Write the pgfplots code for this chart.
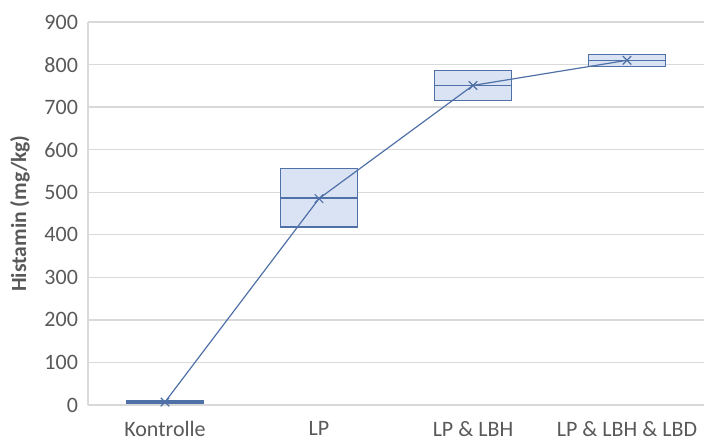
\documentclass[border=0pt]{standalone}
\usepackage{fontspec}
\setmainfont{Carlito}
\usepackage{pgfplots}
\pgfplotsset{compat=1.18}
\definecolor{boxedge}{HTML}{4F71A8}
\definecolor{boxfill}{HTML}{DAE3F3}
\definecolor{gridc}{HTML}{D9D9D9}
\definecolor{txt}{HTML}{595959}
\begin{document}
\begin{tikzpicture}
\begin{axis}[
  scale only axis,
  width=308pt, height=191.5pt,
  xmin=-0.5, xmax=3.5,
  ymin=0, ymax=900,
  ytick={0,100,...,900},
  xtick={0,1,2,3},
  xticklabels={Kontrolle, LP, LP \& LBH, LP \& LBH \& LBD},
  tick style={draw=none},
  ymajorgrids,
  grid style={gridc, line width=0.7pt},
  axis x line*=bottom,
  axis y line*=left,
  axis line style={gridc, line width=0.7pt, -},
  /pgf/number format/assume math mode=true,
  tick label style={font=\fontsize{11}{13}\selectfont, text=txt},
  yticklabel style={xshift=-1.5pt},
  xticklabel style={yshift=-4.5pt},
  ylabel={Histamin (mg/kg)},
  ylabel style={at={(axis description cs:-0.1104,0.5)}, anchor=center, font=\fontsize{10.8}{13}\selectfont\bfseries, text=txt},
  clip=false,
]
% boxes (lower quartile to upper quartile)
\addplot[draw=boxedge, fill=boxfill, line width=0.9pt] coordinates {(-0.25,5.5) (0.25,5.5) (0.25,8.5) (-0.25,8.5)} --cycle;
\addplot[draw=boxedge, fill=boxfill, line width=0.75pt] coordinates {(0.75,418) (1.25,418) (1.25,556) (0.75,556)} --cycle;
\addplot[draw=boxedge, fill=boxfill, line width=0.75pt] coordinates {(1.75,715) (2.25,715) (2.25,786) (1.75,786)} --cycle;
\addplot[draw=boxedge, fill=boxfill, line width=0.75pt] coordinates {(2.75,795) (3.25,795) (3.25,824) (2.75,824)} --cycle;
% medians
\addplot[draw=boxedge, line width=0.75pt] coordinates {(-0.25,7) (0.25,7)};
\addplot[draw=boxedge, line width=0.75pt] coordinates {(0.75,487) (1.25,487)};
\addplot[draw=boxedge, line width=0.75pt] coordinates {(1.75,751) (2.25,751)};
\addplot[draw=boxedge, line width=0.75pt] coordinates {(2.75,810) (3.25,810)};
% means
\addplot[boxedge, line width=0.6pt, mark=x, mark size=3pt, mark options={solid, line width=0.6pt}]
  coordinates {(0,7) (1,485) (2,751) (3,810)};
\end{axis}
\pgfresetboundingbox
\path[use as bounding box] (-44pt,-17pt) rectangle (308pt,202.5pt);
\end{tikzpicture}
\end{document}
